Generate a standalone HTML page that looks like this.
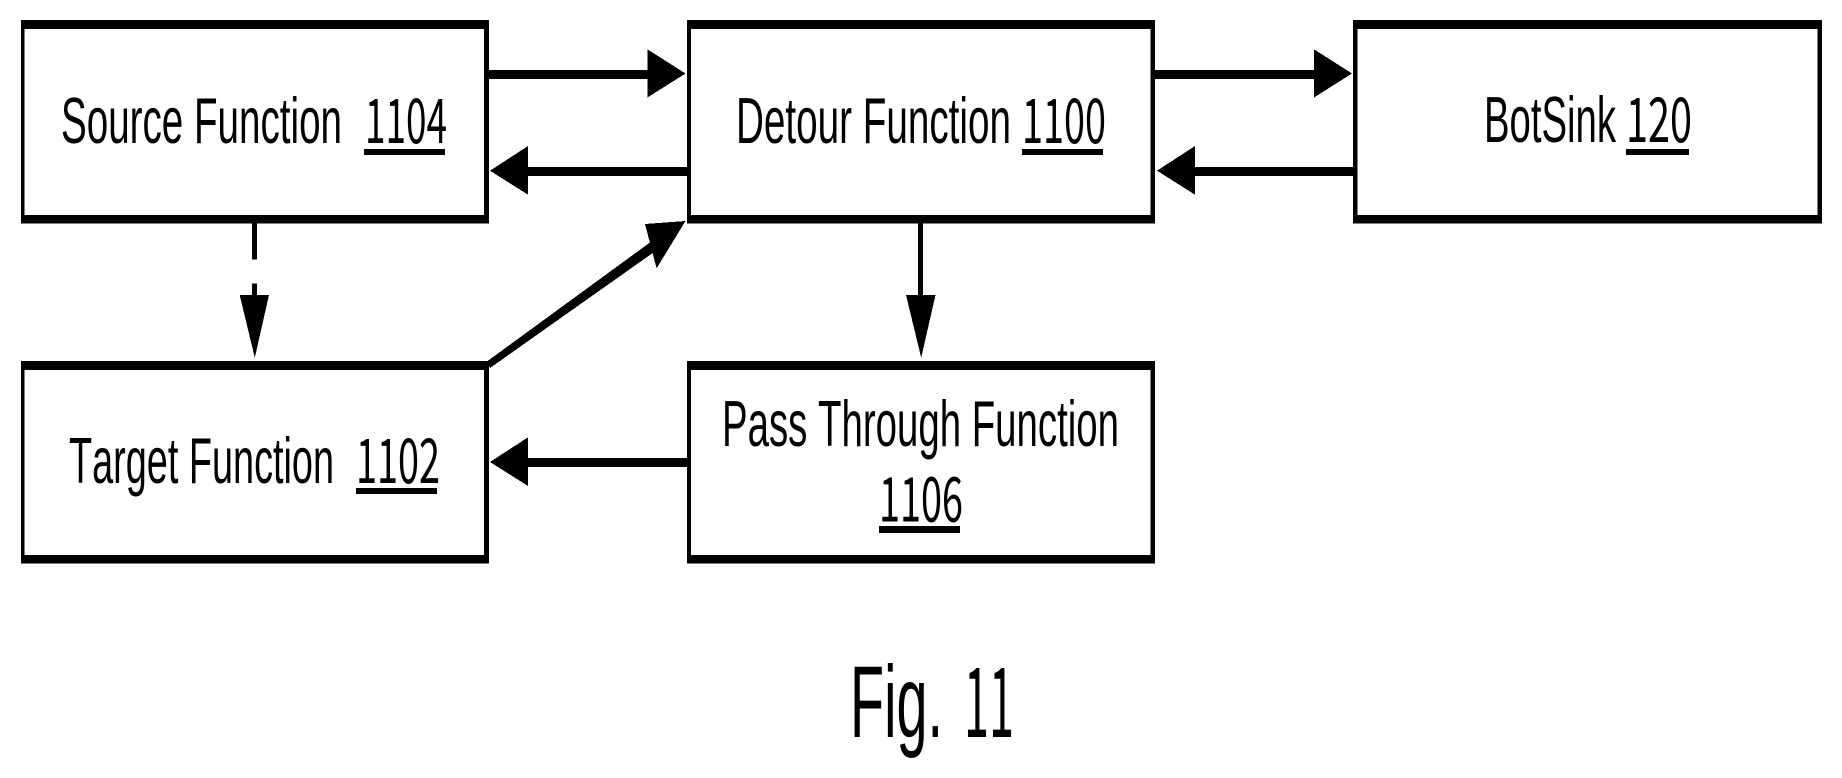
<!DOCTYPE html>
<html><head><meta charset="utf-8"><style>
html,body{margin:0;padding:0;background:#fff;width:1842px;height:778px;overflow:hidden}
svg{display:block}
text{font-family:"Liberation Sans",Arial,sans-serif;fill:#000;font-size:65px;font-kerning:none}
text.n{font-family:"Noto Sans CJK JP","Liberation Sans",sans-serif;font-size:62px}
</style></head><body>
<svg width="1842" height="778" viewBox="0 0 1842 778" xmlns="http://www.w3.org/2000/svg">
<rect width="1842" height="778" fill="#fff"/>
<!-- boxes -->
<g fill="#000" shape-rendering="crispEdges">
<rect x="21" y="20" width="468" height="203.5"/>
<rect x="687" y="20" width="468" height="203.5"/>
<rect x="1353" y="20" width="469" height="203.5"/>
<rect x="21" y="361" width="468" height="202.5"/>
<rect x="687" y="361" width="468" height="202.5"/>
</g>
<g fill="#fff" shape-rendering="crispEdges">
<rect x="24.5" y="29" width="459.5" height="186"/>
<rect x="690.8" y="29" width="459.7" height="186"/>
<rect x="1357.7" y="29" width="459.8" height="186"/>
<rect x="24.5" y="370" width="459.5" height="185"/>
<rect x="690.8" y="370" width="459.7" height="185"/>
</g>
<!-- connectors -->
<g fill="#000" shape-rendering="crispEdges">
<rect x="489" y="70" width="160" height="9"/>
<polygon points="647.4,49.3 685.5,73.5 647.4,97.5"/>
<rect x="526" y="167" width="161" height="9"/>
<polygon points="528,146 490,170.7 528,194.7"/>
<rect x="1155" y="70" width="161" height="9"/>
<polygon points="1314,49.3 1352,73.5 1314,97.5"/>
<rect x="1193" y="167" width="160" height="9"/>
<polygon points="1195,146 1157,170.7 1195,194.7"/>
<rect x="526" y="458" width="161" height="9"/>
<polygon points="528,437.3 490,462 528,486"/>
<rect x="252" y="223" width="5" height="36.3"/>
<rect x="252" y="283.3" width="5" height="14"/>
<polygon points="239.7,295 269,295 254.8,357.7"/>
<rect x="918" y="223" width="5" height="74"/>
<polygon points="906,295 935.5,295 921.2,357.7"/>
<polygon points="645,224 685.5,221 656.6,268.3"/>
<polygon points="487.6,361 652,241 657,250 490,368"/>
</g>
<!-- labels -->
<text x="61" y="143" textLength="281" lengthAdjust="spacingAndGlyphs">Source Function</text>
<text class="n" x="365" y="143" textLength="82" lengthAdjust="spacingAndGlyphs">1104</text>
<rect x="364" y="149" width="81" height="6" fill="#000" shape-rendering="crispEdges"/>
<text x="736" y="143" textLength="275" lengthAdjust="spacingAndGlyphs">Detour Function</text>
<text class="n" x="1022" y="143" textLength="84" lengthAdjust="spacingAndGlyphs">1100</text>
<rect x="1022" y="149" width="81" height="6" fill="#000" shape-rendering="crispEdges"/>
<text x="1484" y="142" textLength="132" lengthAdjust="spacingAndGlyphs">BotSink</text>
<text class="n" x="1626" y="142" textLength="66" lengthAdjust="spacingAndGlyphs">120</text>
<rect x="1626" y="149" width="63" height="6" fill="#000" shape-rendering="crispEdges"/>
<text x="69" y="483" textLength="265" lengthAdjust="spacingAndGlyphs">Target Function</text>
<text class="n" x="356" y="483" textLength="84" lengthAdjust="spacingAndGlyphs">1102</text>
<rect x="356" y="488" width="81" height="6" fill="#000" shape-rendering="crispEdges"/>
<text x="722" y="446" textLength="397" lengthAdjust="spacingAndGlyphs">Pass Through Function</text>
<text class="n" x="879" y="521.5" textLength="84" lengthAdjust="spacingAndGlyphs">1106</text>
<rect x="879" y="526" width="81" height="7" fill="#000" shape-rendering="crispEdges"/>
<text x="850" y="737" textLength="93" lengthAdjust="spacingAndGlyphs" style="font-size:102px">Fig.</text>
<text class="n" x="964" y="737" textLength="50" lengthAdjust="spacingAndGlyphs" style="font-size:97px">11</text>
</svg>
</body></html>
